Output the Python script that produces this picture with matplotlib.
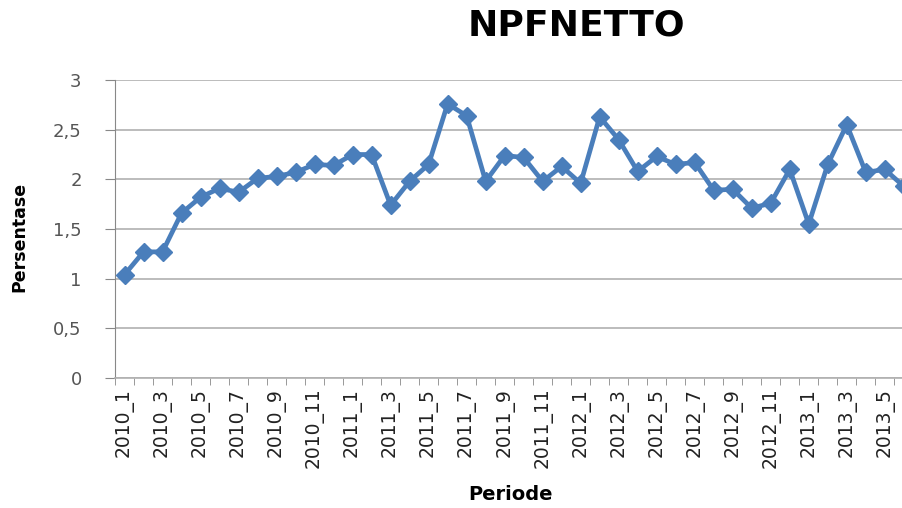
import numpy as np
import matplotlib
matplotlib.use("Agg")
import matplotlib.pyplot as plt
from matplotlib.ticker import FuncFormatter

# monthly periods 2010_1 .. 2013_6
periode = [f"{y}_{m}" for y in (2010, 2011, 2012) for m in range(1, 13)] + \
          [f"2013_{m}" for m in range(1, 7)]

npf_netto = [1.04, 1.27, 1.27, 1.66, 1.82, 1.91, 1.87, 2.01, 2.03, 2.07,
             2.15, 2.14, 2.25, 2.25, 1.74, 1.98, 2.15, 2.76, 2.64, 1.98,
             2.24, 2.22, 1.98, 2.13, 1.96, 2.63, 2.40, 2.08, 2.23, 2.15,
             2.17, 1.89, 1.90, 1.71, 1.76, 2.10, 1.55, 2.15, 2.55, 2.07,
             2.10, 1.93]

y_ticks = [0, 0.5, 1, 1.5, 2, 2.5, 3]

fig = plt.figure(figsize=(9.02, 5.08), dpi=100)
ax = fig.add_axes([0.1275, 0.2559, 0.885, 0.5866])

x = np.arange(len(npf_netto))
ax.plot(x, npf_netto, color="#4a7ebb", lw=3.4, marker="D", ms=9.5,
        markerfacecolor="#4a7ebb", markeredgecolor="#4a7ebb", zorder=3)

ax.set_xlim(-0.5, len(npf_netto) - 0.5)
ax.set_ylim(0, 3)
ax.set_yticks(y_ticks)
ax.yaxis.set_major_formatter(FuncFormatter(lambda v, p: f"{v:g}".replace(".", ",")))
ax.grid(axis="y", color="#b0b0b0", lw=1.2)
ax.set_axisbelow(True)

# labels on every other period, ticks on category boundaries
ax.set_xticks(x[::2])
ax.set_xticklabels(periode[::2], rotation=90, fontsize=13.5, color="#222222")
ax.set_xticks(np.arange(-0.5, len(npf_netto), 1), minor=True)
ax.tick_params(axis="x", which="major", length=0, pad=7)
ax.tick_params(axis="x", which="minor", length=5, color="#888888")
ax.tick_params(axis="y", length=7, color="#888888", labelsize=13,
               labelcolor="#555555", pad=17)

for side in ("top", "right"):
    ax.spines[side].set_visible(False)
ax.spines["left"].set_color("#888888")
ax.spines["bottom"].set_color("#b0b0b0")
ax.spines["bottom"].set_linewidth(1.2)

fig.text(576 / 902, 1 - 26 / 508, "NPFNETTO", fontsize=26, fontweight="bold",
         ha="center", va="center")
fig.text(511 / 902, 1 - 494 / 508, "Periode", fontsize=14, fontweight="bold",
         ha="center", va="center")
fig.text(19 / 902, 1 - 237 / 508, "Persentase", fontsize=12.5, fontweight="bold",
         rotation=90, ha="center", va="center")

fig.savefig("out.png", dpi=100)
